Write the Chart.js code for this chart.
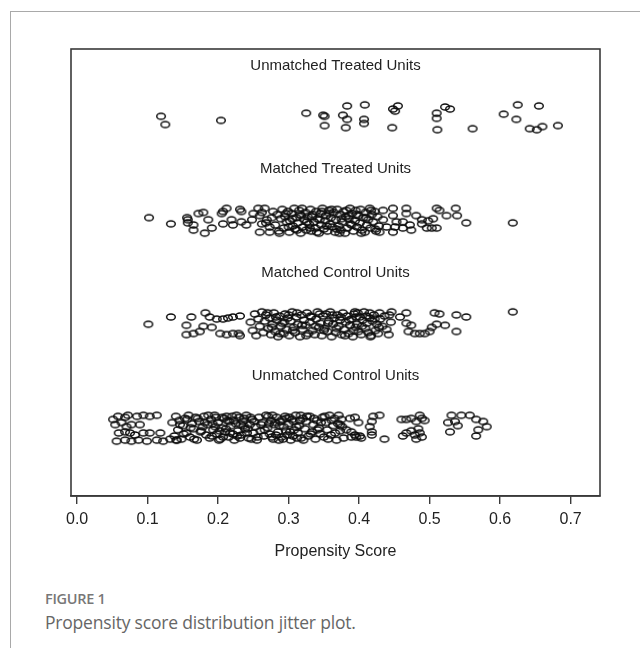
<!DOCTYPE html>
<html>
<head>
<meta charset="utf-8">
<script src="https://cdn.jsdelivr.net/npm/chart.js@4.4.1/dist/chart.umd.min.js"></script>
<style>
  body { margin: 0; background: #fff; width: 640px; height: 648px; overflow: hidden; position: relative; }
  .frame { position: absolute; left: 10px; top: 11px; right: -5px; bottom: -5px; border-left: 1.5px solid #a9a9a9; border-top: 1.5px solid #a9a9a9; }
  #chart { position: absolute; left: 0; top: 0; }
  .fig { position: absolute; left: 45px; font-family: "Open Sans", "Noto Sans", sans-serif; color: #777; }
  .fig-num { top: 589px; font-size: 14.5px; font-weight: 600; letter-spacing: -0.3px; }
  .fig-cap { top: 610px; font-size: 17.5px; color: #666; letter-spacing: -0.2px; }
</style>
</head>
<body>
<div class="frame"></div>
<canvas id="chart" width="640" height="580"></canvas>
<div class="fig fig-num">FIGURE 1</div>
<div class="fig fig-cap">Propensity score distribution jitter plot.</div>
<script>
// group names, their row (y centre) and where the label sits
const groups = ["Unmatched Treated Units", "Matched Treated Units", "Matched Control Units", "Unmatched Control Units"];
const rowCentre = [3, 2, 1, 0];
const labelRow = [3.5, 2.5, 1.5, 0.5];
const labelScore = 0.3665;
const tickValues = [0, 0.1, 0.2, 0.3, 0.4, 0.5, 0.6, 0.7];
const tickLabels = ["0.0", "0.1", "0.2", "0.3", "0.4", "0.5", "0.6", "0.7"];

// [propensity score, vertical jitter]
const unmatchedTreated = [
  [0.119,0.01],[0.125,-0.07],[0.204,-0.03],[0.325,0.04],[0.349,0.02],[0.351,0.01],[0.377,0.02],[0.383,0.11],
  [0.383,-0.02],[0.351,-0.08],[0.381,-0.10],[0.408,0.12],[0.407,-0.02],[0.407,-0.06],[0.448,0.08],[0.455,0.11],
  [0.451,0.06],[0.447,-0.10],[0.510,0.04],[0.522,0.10],[0.529,0.08],[0.510,-0.01],[0.511,-0.12],[0.561,-0.11],
  [0.605,0.03],[0.625,0.12],[0.623,-0.02],[0.655,0.11],[0.642,-0.11],[0.652,-0.12],[0.660,-0.09],[0.682,-0.08]
];

const matchedTreated = [
  [0.102,0.03],[0.133,-0.03],[0.156,0.03],[0.157,0.01],[0.157,-0.02],[0.165,-0.04],[0.165,-0.09],[0.172,0.07],
  [0.179,0.08],[0.186,0.01],[0.181,-0.12],[0.191,-0.07],[0.205,0.07],[0.207,0.09],[0.212,0.12],[0.207,-0.03],
  [0.219,0.01],[0.221,-0.04],[0.231,0.11],[0.233,0.09],[0.233,-0.01],[0.240,-0.04],[0.248,0.01],[0.250,0.07],
  [0.257,0.12],[0.259,0.05],[0.262,-0.03],[0.259,-0.11],[0.266,0.12],[0.269,0.01],[0.273,-0.06],[0.273,-0.11],
  [0.278,0.09],
  [0.281,-0.04],[0.284,0.06],[0.286,-0.10],[0.289,0.02],[0.291,0.11],[0.293,-0.07],[0.295,0.04],[0.297,-0.01],
  [0.299,0.09],[0.301,-0.11],[0.302,0.00],[0.304,0.07],[0.306,-0.05],[0.308,0.12],[0.309,-0.08],[0.311,0.03],
  [0.313,-0.02],[0.315,0.10],[0.317,-0.12],[0.318,0.05],[0.320,-0.06],[0.322,0.01],[0.324,0.08],[0.325,-0.09],
  [0.327,0.04],[0.329,-0.03],[0.331,0.11],[0.332,-0.10],[0.334,0.06],[0.336,-0.01],[0.338,-0.07],[0.339,0.09],
  [0.341,0.02],[0.343,-0.12],[0.345,0.07],[0.346,-0.04],[0.348,0.12],[0.350,-0.08],[0.352,0.00],[0.353,0.05],
  [0.355,-0.10],[0.357,0.10],[0.359,-0.03],[0.360,0.03],[0.362,-0.06],[0.364,0.08],[0.366,-0.11],[0.367,0.01],
  [0.369,0.11],[0.371,-0.05],[0.373,0.06],[0.374,-0.09],[0.376,-0.01],[0.378,0.09],[0.380,-0.12],[0.381,0.04],
  [0.383,-0.07],[0.385,0.02],[0.387,0.12],[0.388,-0.03],[0.390,0.07],[0.392,-0.10],[0.394,0.00],[0.395,0.10],
  [0.397,-0.06],[0.399,0.05],[0.401,-0.02],[0.402,0.11],[0.404,-0.09],[0.406,0.03],[0.408,-0.11],[0.409,0.08],
  [0.411,-0.04],[0.413,0.01],[0.415,0.12],[0.416,-0.07],[0.418,0.06],[0.420,-0.01],[0.422,0.09],[0.424,-0.10],
  [0.426,0.04],[0.428,-0.05],
  [0.262,0.08],[0.268,-0.02],[0.276,0.03],[0.287,-0.12],[0.296,0.07],[0.305,0.02],[0.312,-0.09],[0.319,0.12],
  [0.326,-0.01],[0.333,0.04],[0.340,-0.11],[0.347,0.09],[0.354,-0.05],[0.361,0.11],[0.368,-0.08],[0.375,0.02],
  [0.382,0.10],[0.389,-0.04],[0.396,0.06],[0.403,-0.12],[0.410,0.03],[0.417,0.10],[0.423,-0.08],[0.300,-0.06],
  [0.316,0.06],[0.330,-0.07],[0.344,0.01],[0.358,0.07],[0.372,-0.12],[0.386,0.05],
  [0.448,0.12],[0.467,0.12],[0.467,0.07],[0.481,0.05],[0.489,0.01],[0.498,0.00],[0.505,0.02],[0.510,0.12],
  [0.514,0.10],[0.524,0.05],[0.537,0.12],[0.539,0.05],[0.552,-0.02],[0.618,-0.02],[0.496,-0.07],[0.503,-0.07],
  [0.510,-0.07],[0.489,-0.03],[0.472,-0.04],[0.474,-0.09],[0.462,-0.01],[0.462,-0.07],[0.448,0.05],[0.453,-0.01],
  [0.451,-0.06],[0.448,-0.11],[0.434,0.10],[0.434,0.01],[0.429,-0.11],[0.439,-0.06]
];

const matchedControl = [
  [0.101,0.00],[0.133,0.07],[0.155,-0.01],[0.162,0.07],[0.182,0.11],[0.188,0.07],[0.179,-0.02],[0.191,-0.03],
  [0.155,-0.10],[0.165,-0.09],[0.174,-0.07],[0.198,0.05],[0.207,0.05],[0.214,0.06],[0.221,0.07],[0.231,0.08],
  [0.203,-0.09],[0.212,-0.10],[0.221,-0.09],[0.229,-0.09],[0.231,-0.11],
  [0.246,0.02],[0.249,-0.06],[0.252,0.10],[0.254,-0.11],[0.257,0.05],[0.259,-0.02],[0.262,0.12],[0.264,-0.08],
  [0.266,0.03],[0.268,0.09],[0.271,-0.04],[0.273,0.06],[0.275,-0.10],[0.277,0.00],[0.279,0.11],[0.281,-0.07],
  [0.283,0.04],[0.285,-0.12],[0.287,0.08],[0.289,-0.02],[0.291,0.01],[0.293,-0.09],[0.295,0.10],[0.297,-0.05],
  [0.299,0.06],[0.301,-0.11],[0.303,0.03],[0.305,0.12],[0.307,-0.03],[0.309,-0.08],[0.311,0.07],[0.313,0.00],
  [0.316,-0.12],[0.318,0.09],[0.320,-0.05],[0.322,0.04],[0.324,-0.01],[0.326,0.11],[0.328,-0.09],[0.330,0.02],
  [0.332,0.07],[0.334,-0.06],[0.337,-0.10],[0.339,0.05],[0.341,0.12],[0.343,-0.03],[0.345,0.01],[0.347,-0.11],
  [0.349,0.08],[0.351,-0.04],[0.353,0.10],[0.355,-0.07],[0.357,0.03],[0.359,0.12],[0.361,-0.12],[0.363,0.00],
  [0.365,0.06],[0.367,-0.08],[0.369,0.09],[0.371,-0.02],[0.373,0.04],[0.375,-0.10],[0.377,0.11],[0.379,-0.05],
  [0.381,0.02],[0.383,0.08],[0.385,-0.09],[0.387,-0.01],[0.389,0.05],[0.391,-0.12],[0.393,0.10],[0.395,-0.03],
  [0.397,0.00],[0.399,-0.07],[0.401,0.07],[0.403,-0.10],[0.405,0.04],[0.407,0.12],[0.409,-0.04],[0.411,0.01],
  [0.413,-0.08],[0.415,0.06],[0.417,-0.11],[0.419,0.03],[0.421,0.09],[0.423,-0.06],[0.425,0.00],[0.427,-0.09],
  [0.430,0.05],[0.433,-0.02],[0.436,0.08],[0.439,-0.05],[0.442,-0.10],[0.445,0.02],
  [0.270,0.11],[0.276,-0.03],[0.282,0.07],[0.288,-0.09],[0.294,0.02],[0.300,0.09],[0.306,-0.06],[0.312,0.11],
  [0.319,-0.01],[0.325,-0.11],[0.331,0.08],[0.338,-0.02],[0.344,0.10],[0.350,-0.06],[0.356,0.01],[0.362,0.09],
  [0.368,-0.04],[0.374,0.07],[0.380,-0.11],[0.386,0.04],[0.392,-0.06],[0.398,0.11],[0.404,-0.02],[0.410,0.08],
  [0.416,-0.12],[0.422,0.05],[0.428,-0.03],
  [0.618,0.12],[0.538,0.09],[0.552,0.07],[0.538,-0.07],[0.522,-0.01],[0.507,0.11],[0.514,0.10],[0.510,0.00],
  [0.503,-0.03],[0.500,-0.07],[0.493,-0.09],[0.486,-0.09],[0.479,-0.09],[0.470,-0.07],[0.474,-0.01],[0.467,0.01],
  [0.467,0.11],[0.458,0.07],[0.446,0.12],[0.443,0.09],[0.429,0.11],[0.415,0.11],[0.394,0.12],[0.396,0.07]
];

const unmatchedControl = [
  [0.051,0.08],[0.058,0.11],[0.068,0.10],[0.072,0.12],[0.085,0.11],[0.094,0.12],[0.103,0.11],[0.113,0.12],
  [0.054,0.03],[0.063,0.05],[0.070,0.01],[0.077,0.03],[0.089,0.03],[0.059,-0.05],[0.068,-0.04],[0.075,-0.05],
  [0.082,-0.07],[0.094,-0.05],[0.103,-0.05],[0.118,-0.05],[0.056,-0.13],[0.068,-0.12],[0.077,-0.13],[0.087,-0.12],
  [0.099,-0.13],[0.113,-0.12],[0.122,-0.13],[0.132,-0.11],[0.141,-0.12],
  [0.135,0.05],[0.138,-0.08],[0.140,0.11],[0.143,-0.02],[0.145,0.07],[0.148,-0.11],[0.150,0.02],[0.153,0.09],
  [0.155,-0.05],[0.158,0.12],[0.160,-0.09],[0.163,0.04],[0.165,-0.01],[0.168,0.10],[0.170,-0.12],[0.173,0.06],
  [0.175,-0.04],[0.178,0.01],[0.180,0.11],[0.183,-0.07],[0.185,0.03],[0.188,-0.10],[0.190,0.08],[0.193,-0.02],
  [0.195,0.12],[0.198,-0.06],[0.200,0.05],[0.203,-0.11],[0.205,0.00],[0.208,0.09],[0.210,-0.04],[0.213,0.07],
  [0.215,-0.09],[0.218,0.02],[0.220,0.11],[0.223,-0.12],[0.225,0.04],[0.228,-0.03],[0.230,0.10],[0.233,-0.07],
  [0.235,0.06],[0.238,-0.01],[0.240,0.12],[0.243,-0.10],[0.245,0.03],[0.248,0.08],[0.250,-0.05],[0.253,0.01],
  [0.255,-0.12],[0.258,0.10],[0.260,-0.03],[0.263,0.05],[0.265,-0.08],[0.268,0.12],[0.270,0.00],[0.273,-0.06],
  [0.275,0.07],[0.278,-0.11],[0.280,0.03],[0.283,0.10],[0.285,-0.04],[0.288,0.06],[0.290,-0.09],[0.293,0.01],
  [0.295,0.11],[0.298,-0.07],[0.300,0.04],[0.303,-0.12],[0.305,0.08],[0.308,-0.02],[0.310,0.12],[0.313,-0.05],
  [0.315,0.02],[0.318,-0.10],[0.320,0.09],[0.323,-0.01],[0.325,0.06],[0.328,-0.08],[0.330,0.11],[0.333,-0.04],
  [0.335,0.03],[0.338,-0.11],[0.340,0.07],[0.343,0.00],[0.345,-0.06],[0.348,0.10],[0.350,-0.09],[0.353,0.05],
  [0.355,-0.02],[0.358,0.12],[0.360,-0.07],[0.363,0.02],[0.365,0.09],[0.368,-0.12],[0.370,0.04],[0.373,-0.03],
  [0.375,0.08],[0.378,-0.10],
  [0.141,-0.12],[0.146,0.03],[0.151,-0.06],[0.156,0.08],[0.161,0.00],[0.166,-0.11],[0.171,0.09],[0.176,-0.03],
  [0.181,0.05],[0.186,0.12],[0.191,-0.08],[0.196,0.01],[0.201,-0.12],[0.206,0.10],[0.211,-0.01],[0.216,0.06],
  [0.221,-0.06],[0.226,0.12],[0.231,-0.10],[0.236,0.02],[0.241,-0.05],[0.246,0.10],[0.251,0.06],[0.256,-0.09],
  [0.261,0.03],[0.266,-0.02],[0.271,0.11],[0.276,-0.09],[0.281,0.05],[0.286,-0.12],[0.291,0.08],[0.296,-0.03],
  [0.301,0.10],[0.306,-0.08],[0.311,0.01],[0.316,0.07],[0.321,-0.12],[0.326,0.11],[0.331,-0.06],[0.336,0.09],
  [0.341,-0.02],[0.346,0.05],[0.351,0.11],[0.356,-0.11],[0.361,0.07],[0.366,-0.05],[0.371,0.12],[0.376,0.01],
  [0.192,0.04],[0.197,0.10],[0.202,-0.03],[0.207,-0.09],[0.212,0.11],[0.217,-0.05],[0.222,0.07],[0.227,-0.08],
  [0.232,0.03],[0.237,0.09],[0.242,-0.01],[0.247,-0.11],[0.272,0.04],[0.277,0.12],[0.282,-0.07],[0.287,0.02],
  [0.292,-0.11],[0.297,0.09],[0.302,-0.04],[0.307,0.06],[0.312,-0.10],[0.317,0.12],
  [0.373,0.03],[0.382,-0.02],[0.387,0.09],[0.394,0.10],[0.399,0.05],[0.389,-0.04],[0.394,-0.07],[0.389,-0.09],
  [0.396,-0.09],[0.401,-0.08],[0.403,-0.10],[0.420,0.11],[0.429,0.12],[0.418,0.06],[0.415,0.01],[0.418,-0.04],
  [0.418,-0.07],[0.436,-0.11],[0.460,0.08],[0.467,0.08],[0.474,0.09],[0.486,0.12],[0.489,0.09],[0.493,0.07],
  [0.481,0.06],[0.474,-0.03],[0.467,-0.05],[0.484,-0.01],[0.486,-0.05],[0.479,-0.07],[0.462,-0.08],[0.489,-0.09],
  [0.481,-0.11],[0.531,0.12],[0.545,0.12],[0.557,0.12],[0.526,0.05],[0.536,0.06],[0.540,0.02],[0.529,-0.04],
  [0.566,0.08],[0.576,0.06],[0.581,0.01],[0.569,-0.02],[0.566,-0.08]
];

const series = [unmatchedTreated, matchedTreated, matchedControl, unmatchedControl];

// open circle, a bit wider than tall like in the picture
function ring() {
  const c = document.createElement('canvas');
  c.width = 12; c.height = 10;
  const g = c.getContext('2d');
  g.strokeStyle = '#0d0d0d';
  g.lineWidth = 1.45;
  g.beginPath();
  g.ellipse(6, 5, 4.3, 3.0, 0, 0, Math.PI * 2);
  g.stroke();
  return c;
}
const marker = ring();

// box around the plot and the group titles
const boxAndLabels = {
  id: 'boxAndLabels',
  afterDraw(chart) {
    const { ctx, chartArea: a, scales } = chart;
    ctx.save();
    ctx.strokeStyle = '#3a3a3a';
    ctx.lineWidth = 1.6;
    ctx.strokeRect(a.left, a.top, a.right - a.left, a.bottom - a.top);
    ctx.fillStyle = '#222';
    ctx.font = '15px "Liberation Sans", Arial, sans-serif';
    ctx.textAlign = 'center';
    ctx.textBaseline = 'middle';
    groups.forEach((name, i) => {
      ctx.fillText(name, scales.x.getPixelForValue(labelScore), scales.y.getPixelForValue(labelRow[i]));
    });
    ctx.restore();
  }
};

let ctx = document.getElementById('chart').getContext('2d');
let chart = new Chart(ctx, {
  type: 'scatter',
  data: {
    datasets: series.map((pts, i) => ({
      label: groups[i],
      data: pts.map(p => ({ x: p[0], y: rowCentre[i] + p[1] })),
      pointStyle: marker,
      pointRadius: 4,
      pointHoverRadius: 4
    }))
  },
  options: {
    responsive: false,
    animation: false,
    events: [],
    layout: { padding: { left: 71, right: 40, top: 49, bottom: 0 } },
    plugins: { legend: { display: false }, tooltip: { enabled: false } },
    scales: {
      x: {
        type: 'linear',
        min: -0.0087,
        max: 0.7417,
        afterBuildTicks: s => { s.ticks = tickValues.map(v => ({ value: v })); },
        afterFit: s => { s.height = 84; },
        ticks: {
          callback: (v, i) => tickLabels[i],
          color: '#222',
          padding: 6,
          maxRotation: 0,
          autoSkip: false,
          font: { family: '"Liberation Sans", Arial, sans-serif', size: 16 }
        },
        grid: { drawOnChartArea: false, drawTicks: true, tickLength: 8, color: '#3a3a3a', lineWidth: 1.4 },
        border: { display: true, color: '#3a3a3a', width: 1.6 },
        title: {
          display: true,
          text: 'Propensity Score',
          color: '#222',
          padding: { top: 0, bottom: 19 },
          font: { family: '"Liberation Sans", Arial, sans-serif', size: 16 }
        }
      },
      y: { type: 'linear', display: false, min: -0.66, max: 3.66 }
    }
  },
  plugins: [boxAndLabels]
});
</script>
</body>
</html>
